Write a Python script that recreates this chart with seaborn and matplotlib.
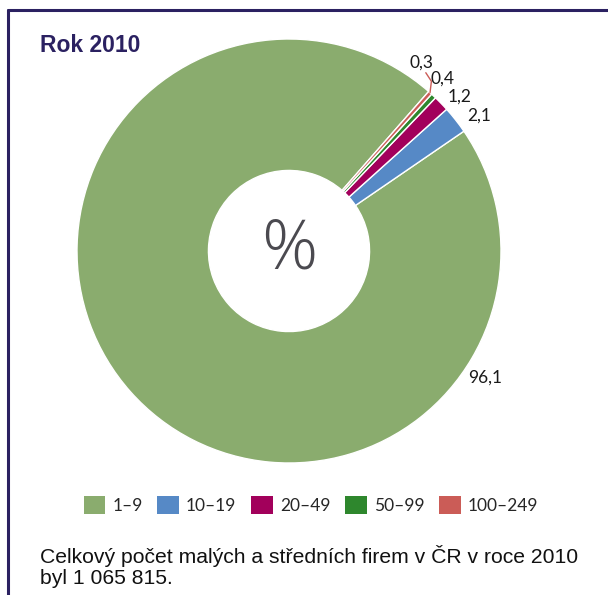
import numpy as np
import matplotlib
matplotlib.use("Agg")
import matplotlib.pyplot as plt
import seaborn as sns
from matplotlib.lines import Line2D

sns.set_theme(style="white")

# ---- data ----
categories = ["1–9", "10–19", "20–49", "50–99", "100–249"]
shares = [96.1, 2.1, 1.2, 0.4, 0.3]
value_labels = ["96,1", "2,1", "1,2", "0,4", "0,3"]
title = "Rok 2010"
center_text = "%"
caption = "Celkový počet malých a středních firem v ČR v roce 2010\nbyl 1 065 815."

# ---- styles / positions ----
colors = ["#8AAC6E", "#5689C6", "#A2005B", "#2E872D", "#CB5C57"]
navy = "#2B2161"
label_angles = [-32.9, 35.4, 42.0, 48.3, 54.9]
label_radii = [1.10, 1.10, 1.085, 1.09, 1.085]

W, H = 608, 595
fig = plt.figure(figsize=(W / 100, H / 100), dpi=100)
ax = fig.add_axes([0, 0, 1, 1])
cx, cy, R = 289, 251, 212

wedges, _ = ax.pie(shares, colors=colors, startangle=48.8, counterclock=True,
                   radius=1.0, center=(0, 0), frame=True,
                   wedgeprops=dict(width=0.62, edgecolor="white", linewidth=1.0))
ax.set_xlim(-cx / R, (W - cx) / R)
ax.set_ylim(-(H - cy) / R, cy / R)
ax.set_aspect("auto")
ax.axis("off")

lab_font = "Lato"
for lab, ang, r in zip(value_labels, label_angles, label_radii):
    a = np.deg2rad(ang)
    ax.text(r * np.cos(a), r * np.sin(a), lab, ha="center", va="center",
            fontsize=12.5, family=lab_font, color="#1a1a1a")

# leader for smallest slice
pts = [(1.0, 48.3), (1.045, 50.0), (1.06, 52.5)]
xs = [r * np.cos(np.deg2rad(t)) for r, t in pts]
ys = [r * np.sin(np.deg2rad(t)) for r, t in pts]
ax.plot(xs, ys, color=colors[4], lw=1.0)

ax.text(0, 0, center_text, ha="center", va="center", fontsize=50,
        family="Open Sans", fontweight="light", color="#4B4A50")

# frame (top and left)
fig.add_artist(Line2D([8 / W, 1], [1 - 10 / H, 1 - 10 / H], color=navy, lw=2.2,
                      transform=fig.transFigure))
fig.add_artist(Line2D([8 / W, 8 / W], [1 - 10 / H, 0], color=navy, lw=2.2,
                      transform=fig.transFigure))

fig.text(40 / W, 1 - 52 / H, title, fontsize=16.5, fontweight="bold",
         family="Liberation Sans", color=navy, va="baseline", ha="left")

leg = fig.legend(wedges, categories, loc="center", ncol=5, frameon=False,
                 bbox_to_anchor=(311 / W, 1 - 505 / H),
                 prop=dict(family=lab_font, size=12.5),
                 handlelength=1.25, handleheight=1.25, handletextpad=0.4,
                 columnspacing=0.85, borderaxespad=0)
for h in leg.legend_handles:
    h.set_edgecolor("none")

fig.text(40 / W, 1 - 545 / H, caption, fontsize=15.2, family="Liberation Sans",
         color="#111111", va="top", ha="left", linespacing=1.15)

fig.savefig("out.png", dpi=100)
